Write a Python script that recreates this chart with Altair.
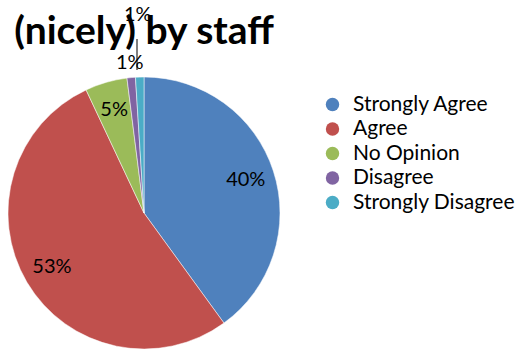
import altair as alt
import pandas as pd

categories = ["Strongly Agree", "Agree", "No Opinion", "Disagree", "Strongly Disagree"]
values = [40, 53, 5, 1, 1]
labels = ["40%", "53%", "5%", "1%", "1%"]
colors = ["#4F81BD", "#C0504D", "#9BBB59", "#8064A2", "#4BACC6"]

df = pd.DataFrame({
    "category": categories,
    "value": values,
    "label": labels,
    "order": list(range(len(categories))),
})

FONT = "Lato"
theta_scale = alt.Scale(domain=[0, 100])

base = alt.Chart(df)

arcs = base.mark_arc(stroke="white", strokeWidth=0.5).encode(
    theta=alt.Theta("value:Q", stack=True, scale=theta_scale),
    color=alt.Color(
        "category:N",
        scale=alt.Scale(domain=categories, range=colors),
        sort=categories,
        legend=alt.Legend(
            title=None,
            orient="none",
            legendX=322,
            legendY=17,
            symbolType="circle",
            symbolSize=180,
            symbolStrokeWidth=0,
            labelFontSize=21,
            labelFont=FONT,
            labelColor="black",
            labelOffset=10,
            labelLimit=300,
            rowPadding=2.5,
            padding=0,
        ),
    ),
    order=alt.Order("order:Q"),
)

lab = base.transform_window(
    cum="sum(value)", sort=[alt.SortField("order")], frame=[None, 0]
).transform_calculate(mid="datum.cum - datum.value / 2")

def text_layer(filt, r):
    return lab.transform_filter(filt).mark_text(
        radius=r, fontSize=20, font=FONT, color="black"
    ).encode(
        theta=alt.Theta("mid:Q", scale=theta_scale),
        text="label:N",
    )

main_labels = text_layer("datum.order <= 2", 107)
dis_label = text_layer("datum.order == 3", 151)
sdis_label = text_layer("datum.order == 4", 198)

leader = alt.Chart(pd.DataFrame({"k": [0]})).mark_rule(color="black", strokeWidth=1).encode(
    x=alt.value(137), y=alt.value(-38), y2=alt.value(-7)
)

chart = alt.layer(arcs, leader, main_labels, dis_label, sdis_label).properties(
    width=288,
    height=272,
    title=alt.TitleParams(
        "(nicely) by staff",
        fontSize=39,
        font=FONT,
        fontWeight="bold",
        anchor="middle",
        frame="group",
        color="black",
        offset=-47,
    ),
    autosize=alt.AutoSizeParams(type="none"),
    padding={"left": 0, "top": 77, "right": 227, "bottom": 0},
    background="white",
).configure_view(stroke=None)

chart.save("out.html", embed_options={"renderer": "svg", "actions": False})
